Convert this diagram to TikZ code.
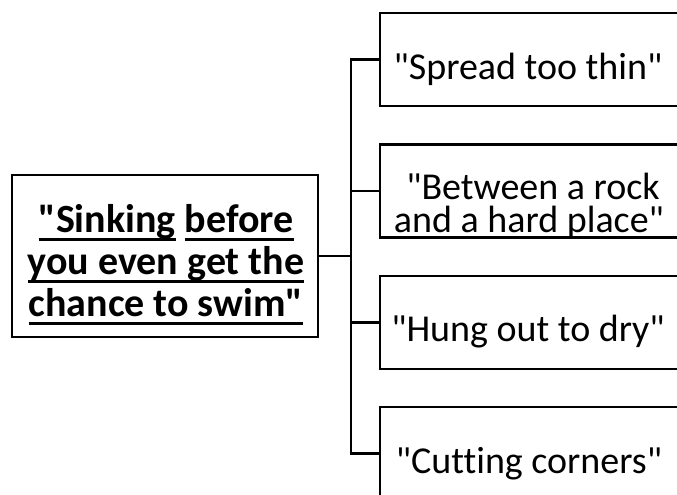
\documentclass[tikz,border=0pt]{standalone}
\usepackage{fontspec}
\setmainfont{Carlito}[Ligatures={TeXOff,NoCommon}]
\newcommand\myul[1]{\setbox0\hbox{#1}\rlap{\rule[-8pt]{\wd0}{2.8pt}}\box0\relax}
\begin{document}
\begin{tikzpicture}[x=1pt,y=-1pt,
  box/.style={draw=black,line width=2.7pt,rectangle,inner sep=0pt},
  rbox/.style={box,minimum width=298pt,minimum height=93pt},
  rtext/.style={anchor=base,inner sep=0pt,font=\fontsize{38}{33}\selectfont},
  ltext/.style={anchor=base,inner sep=0pt,font=\fontsize{40}{42}\selectfont\bfseries},
  conn/.style={line width=2.7pt,line join=miter}]
\useasboundingbox (0,0) rectangle (677,495);
\begin{scope}
\clip (0,0) rectangle (677,495);
\node[box,minimum width=306pt,minimum height=162pt] (L) at (165,256) {};
\node[rbox] (b1) at (529,59.5) {};
\node[rbox] (b2) at (529,191) {};
\node[rbox] (b3) at (529,322.5) {};
\node[rbox] (b4) at (529,453.5) {};
\node[ltext] (l1) at (166,232.5) {\myul{"Sinking} \myul{before}};
\node[ltext] (l2) at (166,274.5) {\myul{you even get the}};
\node[ltext] (l3) at (166,316.5) {\myul{chance to swim"}};
\node[rtext] (t1) at (528,79) {"Spread too thin"};
\node[rtext] (t2a) at (533,199) {"Between a rock};
\node[rtext] (t2b) at (529,232) {and a hard place"};
\node[rtext] (t3) at (528,341.7) {"Hung out to dry"};
\node[rtext] (t4) at (529,473.3) {"Cutting corners"};
\coordinate (j) at (351,256);
\draw[conn] (L.east) -- (j);
\draw[conn] (j) |- (b1.west);
\draw[conn] (j) |- (b2.west);
\draw[conn] (j) |- (b3.west);
\draw[conn] (j) |- (b4.west);
\end{scope}
\end{tikzpicture}
\end{document}
